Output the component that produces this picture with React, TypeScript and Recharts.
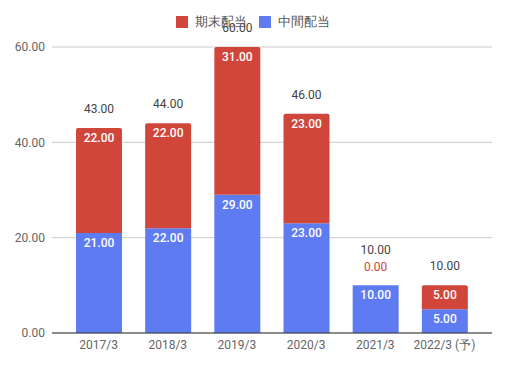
import React from "react";
import { Bar, BarChart, CartesianGrid, LabelList, Legend, XAxis, YAxis } from "recharts";

const categories = ["2017/3", "2018/3", "2019/3", "2020/3", "2021/3", "2022/3 (予)"];
const interim = [21, 22, 29, 23, 10, 5];
const yearEnd = [22, 22, 31, 23, 0, 5];
const yTicks = [0, 20, 40, 60];

const RED = "#d0463b";
const BLUE = "#5f7bf2";
const FONT = "Roboto, Arial, sans-serif";

const data = categories.map((c, i) => ({
  name: c,
  interim: interim[i],
  yearEnd: yearEnd[i],
  total: interim[i] + yearEnd[i],
}));

const fmt = (v: number) => Number(v).toFixed(2);

function InsideLabel(props: any) {
  const { x, y, width, value } = props;
  return (
    <text x={x + width / 2} y={y + 14} textAnchor="middle" fill="#fff" fontSize={12} fontWeight={500} fontFamily={FONT}>
      {fmt(value)}
    </text>
  );
}

// a zero year-end segment has no height, so its labels hang off the interim bar
function ZeroTopLabel(props: any) {
  const { x, y, width, index } = props;
  const d = data[index];
  if (d.yearEnd !== 0) return null;
  return (
    <g>
      <text x={x + width / 2} y={y - 14} textAnchor="middle" fill={RED} fontSize={12} fontFamily={FONT}>
        {fmt(d.yearEnd)}
      </text>
      <text x={x + width / 2} y={y - 31} textAnchor="middle" fill="#444" fontSize={12} fontFamily={FONT}>
        {fmt(d.total)}
      </text>
    </g>
  );
}

function TotalLabel(props: any) {
  const { x, y, width, value } = props;
  return (
    <text x={x + width / 2} y={y - 15} textAnchor="middle" fill="#444" fontSize={12} fontFamily={FONT}>
      {fmt(value)}
    </text>
  );
}

function LegendBox() {
  const item = (color: string, label: string) => (
    <span style={{ display: "inline-flex", alignItems: "center", marginRight: 12 }}>
      <span style={{ width: 12, height: 12, background: color, display: "inline-block", marginRight: 7 }} />
      <span style={{ fontSize: 13, color: "#555", fontFamily: FONT }}>{label}</span>
    </span>
  );
  return (
    <div style={{ height: 30, display: "flex", justifyContent: "center", alignItems: "flex-start", paddingLeft: 26 }}>
      {item(RED, "期末配当")}
      {item(BLUE, "中間配当")}
    </div>
  );
}

export default function App() {
  return (
    <div style={{ position: "absolute", left: 0, top: 0, width: 508, height: 368, background: "#fff" }}>
      <BarChart width={508} height={368} data={data} margin={{ top: 17, right: 16, left: 0, bottom: 5 }} barSize={46}>
        <Legend verticalAlign="top" content={<LegendBox />} wrapperStyle={{ top: 13 }} />
        <CartesianGrid vertical={false} stroke="#cccccc" />
        <XAxis
          dataKey="name"
          padding={{ left: 12, right: 13 }}
          tickLine={false}
          tickSize={0}
          tickMargin={7}
          axisLine={{ stroke: "#333" }}
          tick={{ fontSize: 12, fill: "#666", fontFamily: FONT }}
          height={30}
          interval={0}
        />
        <YAxis
          domain={[0, 60]}
          ticks={yTicks}
          tickFormatter={fmt}
          tickLine={false}
          tickSize={0}
          tickMargin={7}
          axisLine={false}
          width={52}
          tick={{ fontSize: 12, fill: "#666", fontFamily: FONT }}
        />
        <Bar dataKey="interim" stackId="a" fill={BLUE} isAnimationActive={false}>
          <LabelList dataKey="interim" content={<InsideLabel />} />
          <LabelList dataKey="yearEnd" content={<ZeroTopLabel />} />
        </Bar>
        <Bar dataKey="yearEnd" stackId="a" fill={RED} radius={[2, 2, 0, 0]} isAnimationActive={false}>
          <LabelList dataKey="yearEnd" content={<InsideLabel />} />
          <LabelList dataKey="total" content={<TotalLabel />} />
        </Bar>
      </BarChart>
    </div>
  );
}
